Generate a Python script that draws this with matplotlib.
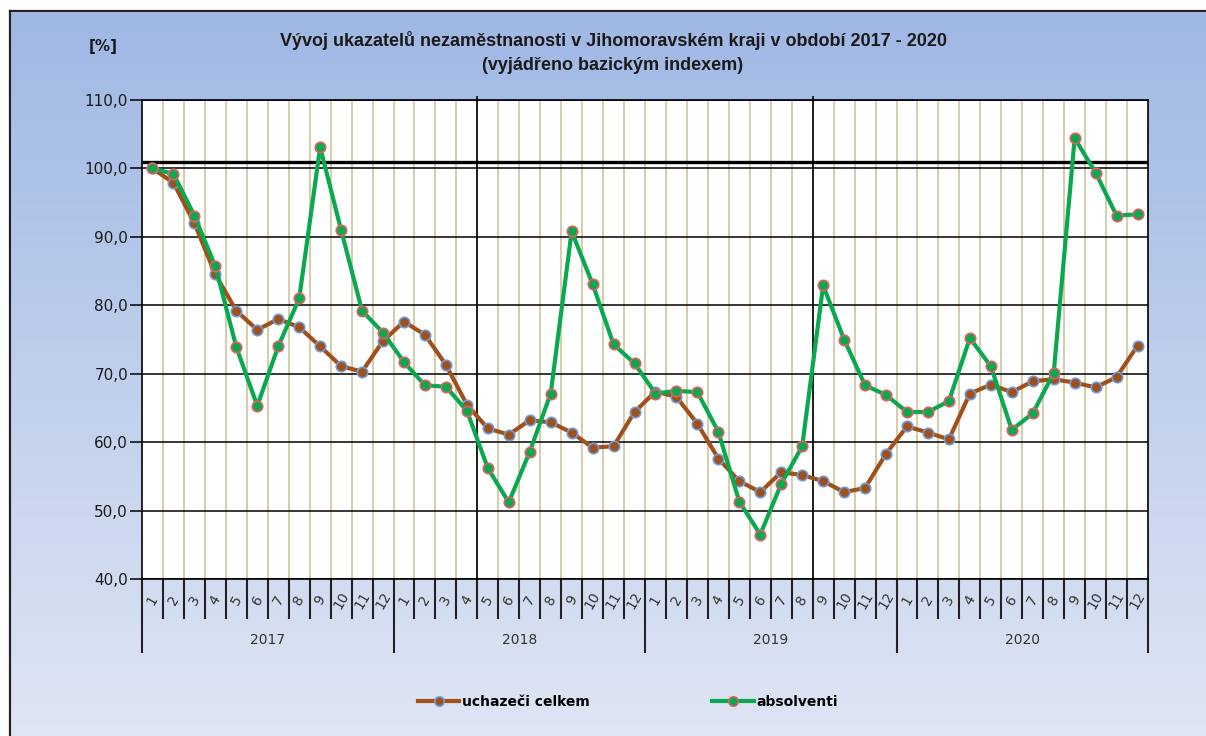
import numpy as np
import matplotlib
matplotlib.use("Agg")
import matplotlib.pyplot as plt
from matplotlib.lines import Line2D
import matplotlib.transforms as mtransforms

# ---------------- data ----------------
years = ["2017", "2018", "2019", "2020"]
months = [str(m) for m in range(1, 13)]

uchazeci_celkem = [
    100.0, 97.9, 92.0, 84.5, 79.2, 76.4, 78.0, 76.8, 74.0, 71.1, 70.3, 74.8,
    77.6, 75.7, 71.3, 65.5, 62.0, 61.1, 63.2, 62.9, 61.4, 59.2, 59.4, 64.4,
    67.4, 66.6, 62.7, 57.6, 54.3, 52.7, 55.6, 55.2, 54.3, 52.7, 53.3, 58.3,
    62.3, 61.4, 60.4, 67.1, 68.4, 67.3, 68.9, 69.2, 68.7, 68.0, 69.5, 74.1,
]
absolventi = [
    100.0, 99.2, 93.1, 85.7, 73.9, 65.3, 74.0, 81.0, 103.1, 91.0, 79.2, 76.0,
    71.7, 68.3, 68.1, 64.6, 56.2, 51.2, 58.6, 67.1, 90.8, 83.1, 74.3, 71.5,
    67.1, 67.5, 67.3, 61.5, 51.3, 46.5, 53.9, 59.4, 82.9, 75.0, 68.3, 66.9,
    64.4, 64.4, 66.0, 75.2, 71.1, 61.8, 64.2, 70.1, 104.4, 99.4, 93.1, 93.3,
]
ref_level = 101.0          # thick reference line
marker_breaks = [16, 32]   # black vertical separators (category boundaries)

title_line1 = "Vývoj ukazatelů nezaměstnanosti v Jihomoravském kraji v období 2017 - 2020"
title_line2 = "(vyjádřeno bazickým indexem)"
series_names = ["uchazeči celkem", "absolventi"]

# ---------------- figure ----------------
W, H = 1206, 736
fig = plt.figure(figsize=(W / 100, H / 100), dpi=100)

# background gradient
bg = fig.add_axes([0, 0, 1, 1], zorder=-10)
top_c = np.array([0x9E, 0xB7, 0xE4]) / 255
bot_c = np.array([0xDF, 0xE6, 0xF4]) / 255
t = np.linspace(0, 1, 256)[:, None]
grad = top_c[None, None, :] * (1 - t[..., None]) + bot_c[None, None, :] * t[..., None]
grad = np.repeat(grad, 4, axis=1)
bg.imshow(grad, aspect="auto", extent=[0, W, H, 0])
bg.set_xlim(0, W)
bg.set_ylim(H, 0)
# white outer margin
bg.fill_between([0, W], 0, 10.5, color="white", zorder=2)
bg.fill_between([0, 9.5], 0, H, color="white", zorder=2)
bg.plot([9.5, W], [10.5, 10.5], color="#222222", lw=1.6, zorder=3)
bg.plot([9.5, 9.5], [10.5, H], color="#222222", lw=1.6, zorder=3)
bg.axis("off")

left, right, top, bottom = 142, 1148, 100, 579
ax = fig.add_axes([left / W, 1 - bottom / H, (right - left) / W, (bottom - top) / H])
ax.set_facecolor("white")

n = len(uchazeci_celkem)
x = np.arange(n) + 0.5
ax.set_xlim(0, n)
ax.set_ylim(40, 110)

# gridlines
for k in range(1, n):
    ax.axvline(k, color="#D2C8A5", lw=1.3, zorder=1)
for yv in range(40, 111, 10):
    ax.axhline(yv, color="black", lw=1.1, zorder=2)
ax.axhline(ref_level, color="black", lw=2.4, zorder=3)
for b in marker_breaks:
    ax.plot([b, b], [40, 110.5], color="black", lw=1.2, zorder=3, clip_on=False)

brown = "#A0501A"
green = "#0AA84F"
ax.plot(x, uchazeci_celkem, color=brown, lw=3.0, marker="o", ms=7.5,
        mfc=brown, mec="#6F9BD8", mew=1.2, zorder=5, label=series_names[0])
ax.plot(x, absolventi, color=green, lw=3.0, marker="o", ms=7.5,
        mfc=green, mec="#E06060", mew=1.2, zorder=6, label=series_names[1])

# y axis
ax.set_yticks(range(40, 111, 10))
ax.set_yticklabels([f"{v:.1f}".replace(".", ",") for v in range(40, 111, 10)],
                   fontsize=11, color="#1A1A1A", family="DejaVu Sans")
ax.tick_params(axis="y", length=9, width=1.1, color="black", pad=1)
ax.set_xticks([])
for s in ax.spines.values():
    s.set_color("black")
    s.set_linewidth(1.2)

# category axis (months + years)
trans = mtransforms.blended_transform_factory(ax.transData, ax.transAxes)
ah = bottom - top
tick_len = 39 / ah
year_len = 73 / ah
for k in range(0, n + 1):
    L = year_len if k % 12 == 0 else tick_len
    ax.add_line(Line2D([k, k], [0, -L], transform=trans, color="#222222",
                       lw=1.5, clip_on=False))
for i in range(n):
    ax.text(i + 0.5, -21 / ah, months[i % 12], transform=trans, rotation=60,
            ha="center", va="center", fontsize=10, color="#333333")
for j, yr in enumerate(years):
    ax.text(12 * j + 6, -61 / ah, yr, transform=trans, ha="center", va="center",
            fontsize=10, color="#333333")

# titles
fig.text(613 / W, 1 - 40 / H, title_line1, ha="center", va="center",
         fontsize=13, fontweight="bold", color="#1A1A1A", family="Liberation Sans")
fig.text(613 / W, 1 - 65 / H, title_line2, ha="center", va="center",
         fontsize=13, fontweight="bold", color="#1A1A1A", family="Liberation Sans")
fig.text(103 / W, 1 - 46 / H, "[%]", ha="center", va="center",
         fontsize=11, color="#1A1A1A", fontweight="bold")

# legend
leg = fig.legend(loc="center", bbox_to_anchor=(628 / W, 1 - 702 / H), ncol=2,
                 frameon=False, handlelength=3.0, handletextpad=0.2,
                 columnspacing=8.8, markerscale=0.9,
                 prop={"size": 10, "weight": "bold"})

fig.savefig("out.png", dpi=100)
